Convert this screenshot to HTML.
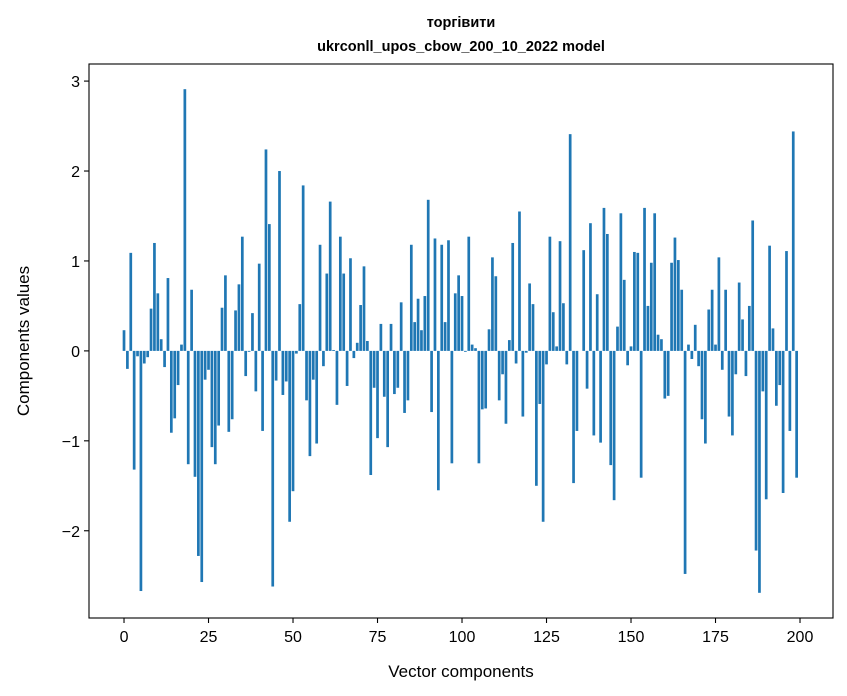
<!DOCTYPE html>
<html><head><meta charset="utf-8"><style>
html,body{margin:0;padding:0;background:#fff;}
svg{display:block;font-family:"Liberation Sans","DejaVu Sans",sans-serif;}
</style></head><body>
<svg id="chart" width="847" height="696" viewBox="0 0 847 696" xmlns="http://www.w3.org/2000/svg">
<rect x="0" y="0" width="847" height="696" fill="#fff"/>
<text x="461" y="27" text-anchor="middle" font-size="14.5" font-weight="bold">торгівити</text>
<text x="461" y="51" text-anchor="middle" font-size="14.5" font-weight="bold">ukrconll_upos_cbow_200_10_2022 model</text>
<g id="bars"></g>
<g id="xticks"></g>
<g id="yticks"></g>
<rect x="89" y="64" width="744" height="554" fill="none" stroke="#000" stroke-width="1.1"/>
<text x="461" y="677" text-anchor="middle" font-size="17">Vector components</text>
<text transform="translate(29,341) rotate(-90)" text-anchor="middle" font-size="17">Components values</text>
</svg>
<script>
const values = [0.23,-0.20,1.09,-1.32,-0.06,-2.67,-0.14,-0.07,0.47,1.20,
0.64,0.13,-0.18,0.81,-0.91,-0.75,-0.38,0.07,2.91,-1.26,
0.68,-1.40,-2.28,-2.57,-0.32,-0.21,-1.07,-1.26,-0.83,0.48,
0.84,-0.90,-0.76,0.45,0.74,1.27,-0.28,-0.01,0.42,-0.45,
0.97,-0.89,2.24,1.41,-2.62,-0.33,2.00,-0.49,-0.34,-1.90,
-1.56,-0.03,0.52,1.84,-0.55,-1.17,-0.32,-1.03,1.18,-0.17,
0.86,1.66,0.01,-0.60,1.27,0.86,-0.39,1.03,-0.08,0.09,
0.51,0.94,0.11,-1.38,-0.41,-0.97,0.30,-0.51,-1.07,0.30,
-0.48,-0.41,0.54,-0.69,-0.55,1.18,0.32,0.58,0.23,0.61,
1.68,-0.68,1.25,-1.55,1.18,0.32,1.23,-1.25,0.64,0.84,
0.61,-0.01,1.27,0.07,0.03,-1.25,-0.65,-0.64,0.24,1.04,
0.83,-0.55,-0.26,-0.81,0.12,1.20,-0.14,1.55,-0.73,-0.02,
0.75,0.52,-1.50,-0.59,-1.90,-0.15,1.27,0.43,0.05,1.22,
0.53,-0.15,2.41,-1.47,-0.89,0.00,1.12,-0.42,1.42,-0.94,
0.63,-1.02,1.59,1.30,-1.27,-1.66,0.27,1.53,0.79,-0.16,
0.05,1.10,1.09,-1.41,1.59,0.50,0.98,1.53,0.18,0.13,
-0.53,-0.50,0.98,1.26,1.01,0.68,-2.48,0.07,-0.09,0.29,
-0.17,-0.76,-1.03,0.46,0.68,0.07,1.04,-0.21,0.68,-0.73,
-0.94,-0.26,0.76,0.35,-0.28,0.50,1.45,-2.22,-2.69,-0.45,
-1.65,1.17,0.25,-0.61,-0.38,-1.58,1.11,-0.89,2.44,-1.41];
const xTicks = [0,25,50,75,100,125,150,175,200];
const yTicks = [-2,-1,0,1,2,3];
const yTickLabels = ["\u22122","\u22121","0","1","2","3"];

const NS = "http://www.w3.org/2000/svg";
const X0 = 89, X1 = 833, Y0 = 64, Y1 = 618;
const xMin = -10.36, xMax = 209.76, yMin = -2.97, yMax = 3.19;
function xs(v){ return X0 + (v - xMin) / (xMax - xMin) * (X1 - X0); }
function ys(v){ return Y1 - (v - yMin) / (yMax - yMin) * (Y1 - Y0); }

const bars = document.getElementById("bars");
values.forEach((v, i) => {
  const r = document.createElementNS(NS, "rect");
  const xa = xs(i - 0.4), xb = xs(i + 0.4);
  const ya = ys(Math.max(v, 0)), yb = ys(Math.min(v, 0));
  r.setAttribute("x", xa);
  r.setAttribute("width", xb - xa);
  r.setAttribute("y", ya);
  r.setAttribute("height", Math.max(yb - ya, 0.01));
  r.setAttribute("fill", "#1f77b4");
  
  
  bars.appendChild(r);
});

const xg = document.getElementById("xticks");
xTicks.forEach(t => {
  const l = document.createElementNS(NS, "line");
  l.setAttribute("x1", xs(t)); l.setAttribute("x2", xs(t));
  l.setAttribute("y1", Y1); l.setAttribute("y2", Y1 + 5);
  l.setAttribute("stroke", "#000"); l.setAttribute("stroke-width", "1.1");
  
  
  xg.appendChild(l);
  const tx = document.createElementNS(NS, "text");
  tx.setAttribute("x", xs(t)); tx.setAttribute("y", Y1 + 24);
  tx.setAttribute("text-anchor", "middle"); tx.setAttribute("font-size", "16");
  tx.textContent = t;
  
  
  xg.appendChild(tx);
});

const yg = document.getElementById("yticks");
yTicks.forEach((t, k) => {
  const l = document.createElementNS(NS, "line");
  l.setAttribute("x1", X0 - 5); l.setAttribute("x2", X0);
  l.setAttribute("y1", ys(t)); l.setAttribute("y2", ys(t));
  l.setAttribute("stroke", "#000"); l.setAttribute("stroke-width", "1.1");
  
  
  yg.appendChild(l);
  const tx = document.createElementNS(NS, "text");
  tx.setAttribute("x", X0 - 9); tx.setAttribute("y", ys(t) + 6);
  tx.setAttribute("text-anchor", "end"); tx.setAttribute("font-size", "16");
  tx.textContent = yTickLabels[k];
  
  
  yg.appendChild(tx);
});
</script>
</body></html>
